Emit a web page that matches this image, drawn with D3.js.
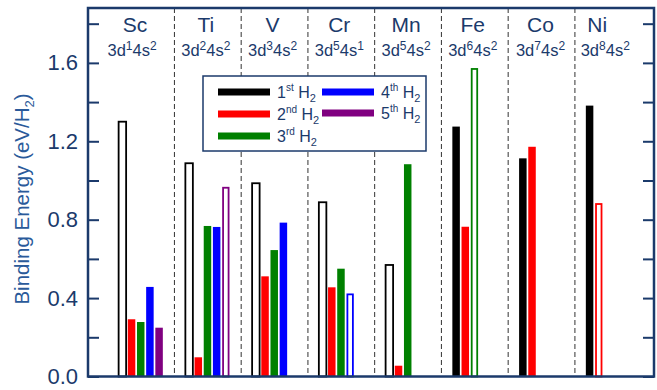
<!DOCTYPE html>
<html><head><meta charset="utf-8">
<script src="https://cdn.jsdelivr.net/npm/d3@7"></script>
<style>body{margin:0;background:#fff;} svg{display:block;font-family:Arial,"Liberation Sans",Helvetica,sans-serif;}</style>
</head><body>
<svg id="c" width="657" height="390"></svg>
<script>
// ---- data ----
const elements = ["Sc","Ti","V","Cr","Mn","Fe","Co","Ni"];
const configs = [["1","2"],["2","2"],["3","2"],["5","1"],["5","2"],["6","2"],["7","2"],["8","2"]];
const seriesNames = ["1st","2nd","3rd","4th","5th"];
const seriesColors = ["#000000","#ff0000","#008000","#0000ff","#800080"];
// binding energies (eV/H2), null = no bar; per series, indexed by element
const h2_1 = [1.30, 1.088, 0.986, 0.889, 0.569, 1.275, 1.113, 1.382];
const h2_2 = [0.292, 0.098, 0.511, 0.455, 0.055, 0.764, 1.172, 0.880];
const h2_3 = [0.278, 0.768, 0.645, 0.550, 1.083, 1.569, null, null];
const h2_4 = [0.457, 0.763, 0.785, 0.419, null, null, null, null];
const h2_5 = [0.249, 0.963, null, null, null, null, null, null];
// hollow (open) bars
const hollow_1 = [true, true, true, true, true, false, false, false];
const hollow_2 = [false,false,false,false,false,false,false,true];
const hollow_3 = [false,false,false,false,false,true,false,false];
const hollow_4 = [false,false,false,true,false,false,false,false];
const hollow_5 = [false,true,false,false,false,false,false,false];
const yTicks = [0, 0.4, 0.8, 1.2, 1.6];

const series = [h2_1,h2_2,h2_3,h2_4,h2_5];
const hollows = [hollow_1,hollow_2,hollow_3,hollow_4,hollow_5];

const svg = d3.select("#c");
const L = 88, R = 654, T = 8, B = 376.5;
const navy = "#1b3a6b";

const x = d3.scaleLinear().domain([-0.795, 7.685]).range([L, R]);
const y = d3.scaleLinear().domain([0, 1.88]).range([B, T]);
const off = d3.scaleLinear().domain([0, 4]).range([-0.28, 0.27]); // series offset within element

// dividers
svg.append("g").selectAll("line").data(d3.range(7)).join("line")
  .attr("x1", d => x(d + 0.5)).attr("x2", d => x(d + 0.5))
  .attr("y1", T).attr("y2", B)
  .attr("stroke", "#333").attr("stroke-width", 1).attr("stroke-dasharray", "5,3");

// bars
const bars = [];
series.forEach((s, k) => s.forEach((v, i) => { if (v != null) bars.push({k, i, v, hollow: hollows[k][i]}); }));
svg.append("g").selectAll("rect").data(bars).join("rect")
  .attr("x", d => { const w = (d.hollow && d.k > 0) ? 5.5 : 7.5; return x(d.i + off(d.k)) - w/2; })
  .attr("width", d => (d.hollow && d.k > 0) ? 5.5 : 7.5)
  .attr("y", d => y(d.v))
  .attr("height", d => y(0) - y(d.v))
  .attr("fill", d => d.hollow ? "#fff" : seriesColors[d.k])
  .attr("stroke", d => d.hollow ? seriesColors[d.k] : "none")
  .attr("stroke-width", 1.8);

// axes
const minor = d3.range(0, 1.81, 0.2);
const yl = d3.axisLeft(y).tickValues(yTicks).tickFormat(d3.format(".1f")).tickSize(0).tickPadding(10);
const gL = svg.append("g").attr("transform", `translate(${L},0)`).call(yl);
gL.select(".domain").remove();
gL.selectAll("text").attr("font-size", 22).attr("fill", navy);
const yt = d3.axisLeft(y).tickValues(minor).tickFormat("").tickSize(-11);
const gL2 = svg.append("g").attr("transform", `translate(${L},0)`).call(yt);
gL2.select(".domain").remove();
gL2.selectAll("line").attr("stroke", navy).attr("stroke-width", 2);
const yr = d3.axisRight(y).tickValues(minor).tickFormat("").tickSize(-11);
const gR = svg.append("g").attr("transform", `translate(${R},0)`).call(yr);
gR.select(".domain").remove();
gR.selectAll("line").attr("stroke", navy).attr("stroke-width", 2);

// frame
svg.append("rect").attr("x", L).attr("y", T).attr("width", R - L).attr("height", B - T)
  .attr("fill", "none").attr("stroke", navy).attr("stroke-width", 2.5);

// y title
svg.append("text").attr("transform", `translate(29,199) rotate(-90)`)
  .attr("text-anchor", "middle").attr("font-size", 20.5).attr("fill", "#2a5a9a")
  .text("Binding Energy (eV/H").append("tspan").attr("font-size", 13).attr("dy", 5).text("2")
  .select(function(){return this.parentNode;}).append("tspan").attr("dy", -5).text(")");

// element labels
const labelShift = [-6, -2, -2, -2, -2, -2, -1, -11];
const cfgShift = [-9, -2, -2, -2, -2, -2, -1, -3];
const eg = svg.append("g");
elements.forEach((e, i) => {
  eg.append("text").attr("x", x(i) + labelShift[i]).attr("y", 32).attr("text-anchor", "middle")
    .attr("font-size", 21).attr("fill", navy).text(e);
  const t = eg.append("text").attr("x", x(i) + cfgShift[i]).attr("y", 56).attr("text-anchor", "middle")
    .attr("font-size", 16.5).attr("fill", navy);
  t.append("tspan").text("3d");
  t.append("tspan").attr("font-size", 12).attr("dy", -6).text(configs[i][0]);
  t.append("tspan").attr("dy", 6).text("4s");
  t.append("tspan").attr("font-size", 12).attr("dy", -6).text(configs[i][1]);
});

// legend
const lg = svg.append("g");
lg.append("rect").attr("x", 203).attr("y", 76).attr("width", 223).attr("height", 75)
  .attr("fill", "#fff").attr("stroke", navy).attr("stroke-width", 1.5);
const legPos = [[218, 92], [218, 114], [218, 136], [322, 92], [322, 113]];
seriesNames.forEach((n, k) => {
  const [lx, ly] = legPos[k];
  lg.append("line").attr("x1", lx).attr("x2", lx + 52).attr("y1", ly).attr("y2", ly)
    .attr("stroke", seriesColors[k]).attr("stroke-width", 7);
  const t = lg.append("text").attr("x", lx + 59).attr("y", ly + 6).attr("font-size", 16).attr("fill", navy);
  t.append("tspan").text(n[0]);
  t.append("tspan").attr("font-size", 10).attr("dy", -7).text(n.slice(1));
  t.append("tspan").attr("dy", 7).text(" H");
  t.append("tspan").attr("font-size", 11).attr("dy", 4).text("2");
});
</script>
</body></html>
